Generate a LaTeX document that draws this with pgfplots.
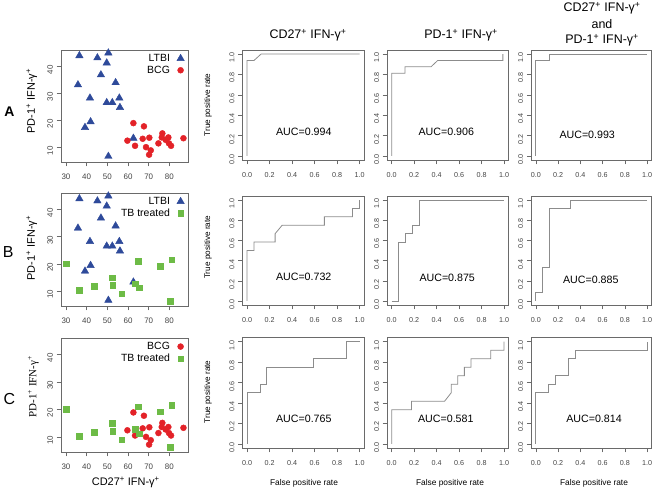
\documentclass[border=0pt]{standalone}
\usepackage{fontspec}
\setmainfont{Liberation Sans}
\newfontfamily\seriffont{Liberation Serif}
\usepackage{pgfplots}
\usepackage{pgfplotstable}
\pgfplotsset{compat=1.18}
\definecolor{ltbi}{HTML}{2E4A9A}
\definecolor{bcg}{HTML}{E32228}
\definecolor{tbt}{HTML}{6DBB46}
\definecolor{frm}{HTML}{6A6A6A}
\definecolor{roccol}{HTML}{8C8C8C}
\definecolor{ticktxt}{HTML}{444444}

\pgfplotstableread{
x y
36.5 43.9
50.5 44.9
45.2 43.1
49.7 41.2
46.9 36.8
35.8 33.1
54.0 33.9
41.6 28.2
49.7 26.5
52.4 26.5
55.8 28.2
56.1 24.7
41.9 19.4
39.2 17.3
62.6 13.3
50.5 6.6
}\ltbidata
\pgfplotstableread{
x y
62.6 18.9
67.7 17.7
59.7 12.4
63.4 10.5
67.1 13.1
70.3 13.5
68.7 10.0
71.0 8.8
70.2 7.2
74.7 11.4
76.6 15.1
76.3 13.6
78.2 12.7
79.5 13.6
79.8 11.4
80.8 10.5
86.8 13.3
}\bcgdata
\pgfplotstableread{
x y
30.0 20.0
36.3 10.2
43.7 11.8
52.4 14.9
52.6 12.1
56.9 9.0
65.0 21.0
63.4 12.7
65.5 11.2
75.5 19.1
81.1 21.5
80.3 6.2
}\tbtdata

\pgfplotsset{
  base/.style={scale only axis, anchor=south west,
    axis line style={frm, line width=0.6pt},
    tick style={frm, line width=0.5pt}, tick align=outside, major tick length=4.5bp,
    tick pos=left,
    /pgf/number format/assume math mode=true,
    yticklabel style={rotate=90, anchor=south, xshift=-3.5bp},
    xticklabel style={yshift=-4bp},
  },
  sc/.style={base, width=127bp, height=113bp, xmin=27.6, xmax=89, ymin=4.5, ymax=46,
    xtick={30,40,50,60,70,80}, ytick={10,20,30,40},
    ticklabel style={font=\fontsize{8}{9}\selectfont, text=ticktxt},
    legend style={at={(rel axis cs:1,1)}, anchor=north east, yshift=-1.5bp, draw=none, fill=none,
      font=\fontsize{10.5}{12}\selectfont, inner sep=1pt, row sep=0pt,
      nodes={inner sep=1.5pt}},
    legend plot pos=right, legend cell align=right,
    legend image code/.code={\path (0bp,-3bp) (15bp,3bp);
      \draw[mark repeat=2,mark phase=2,##1] plot coordinates {(0bp,0bp)(9bp,0bp)(15bp,0bp)};},
  },
  roc/.style={base, xmin=-0.04, xmax=1.04, ymin=-0.04, ymax=1.04,
    xtick={0,0.2,0.4,0.6,0.8,1}, xticklabels={0.0,0.2,0.4,0.6,0.8,1.0},
    ytick={0,0.2,0.4,0.6,0.8,1}, yticklabels={0.0,0.2,0.4,0.6,0.8,1.0},
    ticklabel style={font=\fontsize{7.2}{8}\selectfont, text=ticktxt},
  },
  lt/.style={only marks, mark=triangle*, mark size=4.3bp, color=ltbi},
  bc/.style={only marks, mark=*, mark size=3bp, color=bcg},
  tb/.style={only marks, mark=square*, mark size=2.8bp, color=tbt},
  rl/.style={roccol, line width=0.8pt, no marks},
}

\begin{document}
\begin{tikzpicture}[x=1bp,y=1bp]
\useasboundingbox (0,0) rectangle (659,491);

% ---------- scatter plots ----------
\begin{axis}[sc, at={(61bp,329bp)}, height=112bp]
\addplot[lt] table {\ltbidata}; \addlegendentry{LTBI}
\addplot[bc] table {\bcgdata}; \addlegendentry{BCG}
\end{axis}
\begin{axis}[sc, at={(61bp,185bp)}]
\addplot[lt] table {\ltbidata}; \addlegendentry{LTBI}
\addplot[tb] table {\tbtdata}; \addlegendentry{TB treated}
\end{axis}
\begin{axis}[sc, at={(61bp,39bp)}, height=114bp]
\addplot[bc] table {\bcgdata}; \addlegendentry{BCG}
\addplot[tb] table {\tbtdata}; \addlegendentry{TB treated}
\end{axis}

% ---------- ROC row A ----------
\begin{axis}[roc, at={(242.5bp,331bp)}, width=121.5bp, height=110bp]
\addplot[rl] coordinates {(0,0)(0,0.9375)(0.0625,0.9375)(0.125,1)(1,1)};
\end{axis}
\begin{axis}[roc, at={(387.2bp,331bp)}, width=121.3bp, height=110bp]
\addplot[rl] coordinates {(0,0)(0,0.8125)(0.118,0.8125)(0.118,0.875)(0.35,0.875)(0.41,0.9375)(0.99,0.9375)(0.99,1)};
\end{axis}
\begin{axis}[roc, at={(531.3bp,331bp)}, width=120.2bp, height=110bp]
\addplot[rl] coordinates {(0,0)(0,0.9375)(0.12,0.9375)(0.12,1)(1,1)};
\end{axis}

% ---------- ROC row B ----------
\begin{axis}[roc, at={(242.5bp,186bp)}, width=121.5bp, height=109bp]
\addplot[rl] coordinates {(0,0)(0,0.5)(0.0625,0.5)(0.0625,0.5833)(0.25,0.5833)(0.25,0.6667)(0.3125,0.75)(0.6875,0.75)(0.6875,0.8333)(0.9375,0.8333)(0.9375,0.9167)(1,0.9167)(1,1)};
\end{axis}
\begin{axis}[roc, at={(387.2bp,186bp)}, width=121.3bp, height=109bp]
\addplot[rl] coordinates {(0,0)(0.0625,0)(0.0625,0.5833)(0.125,0.5833)(0.125,0.6667)(0.1875,0.6667)(0.1875,0.75)(0.25,0.75)(0.25,1)(1,1)};
\end{axis}
\begin{axis}[roc, at={(531.3bp,186bp)}, width=120.2bp, height=109bp]
\addplot[rl] coordinates {(0,0)(0,0.0833)(0.0625,0.0833)(0.0625,0.3333)(0.125,0.3333)(0.125,0.9167)(0.3125,0.9167)(0.3125,1)(1,1)};
\end{axis}

% ---------- ROC row C ----------
\begin{axis}[roc, at={(242.5bp,43bp)}, width=121.5bp, height=110.4bp]
\addplot[rl] coordinates {(0,0)(0,0.5)(0.1176,0.5)(0.1176,0.5833)(0.1765,0.5833)(0.1765,0.75)(0.5882,0.75)(0.5882,0.8333)(0.8824,0.8333)(0.8824,1)(1,1)};
\end{axis}
\begin{axis}[roc, at={(387.2bp,43bp)}, width=121.3bp, height=110.4bp]
\addplot[rl] coordinates {(0,0)(0,0.3333)(0.1765,0.3333)(0.1765,0.4167)(0.4706,0.4167)(0.5294,0.5)(0.5294,0.5833)(0.5882,0.5833)(0.5882,0.6667)(0.6471,0.6667)(0.6471,0.75)(0.7059,0.75)(0.7059,0.8333)(0.8824,0.8333)(0.8824,0.9167)(1,0.9167)(1,1)};
\end{axis}
\begin{axis}[roc, at={(531.3bp,43bp)}, width=120.2bp, height=110.4bp]
\addplot[rl] coordinates {(0,0)(0,0.5)(0.1176,0.5)(0.1176,0.5833)(0.1765,0.5833)(0.1765,0.6667)(0.2941,0.6667)(0.2941,0.8333)(0.3529,0.8333)(0.3529,0.9167)(1,0.9167)(1,1)};
\end{axis}

% ---------- texts ----------
\begin{scope}[every node/.style={inner sep=0pt, anchor=center}]
\def\tf{\fontsize{12.5}{14}\selectfont}
\node[font=\tf] at (308,456) {CD27\textsuperscript{+} IFN-γ\textsuperscript{+}};
\node[font=\tf] at (461,456) {PD-1\textsuperscript{+} IFN-γ\textsuperscript{+}};
\node[font=\tf] at (602,482.5) {CD27\textsuperscript{+} IFN-γ\textsuperscript{+}};
\node[font=\tf] at (602,467) {and};
\node[font=\tf] at (602,451) {PD-1\textsuperscript{+} IFN-γ\textsuperscript{+}};

\def\af{\fontsize{10.7}{12}\selectfont}
\node[font=\af] at (303.8,359.3) {AUC=0.994};
\node[font=\af] at (446.3,358.7) {AUC=0.906};
\node[font=\af] at (587.2,356) {AUC=0.993};
\node[font=\af] at (303.7,213.7) {AUC=0.732};
\node[font=\af] at (447.2,212.7) {AUC=0.875};
\node[font=\af] at (590.8,211) {AUC=0.885};
\node[font=\af] at (303.8,72) {AUC=0.765};
\node[font=\af] at (445.8,72) {AUC=0.581};
\node[font=\af] at (594,72) {AUC=0.814};

\def\lf{\fontsize{8.2}{10}\selectfont}
\node[font=\lf, rotate=90] at (208,386) {True positive rate};
\node[font=\lf, rotate=90] at (208,243.7) {True positive rate};
\node[font=\lf, rotate=90] at (208,99) {True positive rate};
\node[font=\fontsize{8.4}{10}\selectfont] at (304,7.7) {False positive rate};
\node[font=\fontsize{8.4}{10}\selectfont] at (450,8) {False positive rate};
\node[font=\fontsize{8.4}{10}\selectfont] at (594,8) {False positive rate};

\def\yf{\fontsize{11}{12}\selectfont}
\node[font=\yf, rotate=90] at (31.7,390) {PD-1\textsuperscript{+} IFN-γ\textsuperscript{+}};
\node[font=\yf, rotate=90] at (31.7,243) {PD-1\textsuperscript{+} IFN-γ\textsuperscript{+}};
\node[font=\yf\seriffont, rotate=90] at (33.3,104.3) {PD-1\textsuperscript{+} IFN-γ\textsuperscript{+}};
\node[font=\yf] at (125.8,8.3) {CD27\textsuperscript{+} IFN-γ\textsuperscript{+}};

\node[font=\fontsize{14}{16}\selectfont\bfseries] at (9.3,379.3) {A};
\node[font=\fontsize{16}{18}\selectfont] at (8.3,239.3) {B};
\node[font=\fontsize{16}{18}\selectfont] at (9.3,92) {C};
\end{scope}
\end{tikzpicture}
\end{document}
